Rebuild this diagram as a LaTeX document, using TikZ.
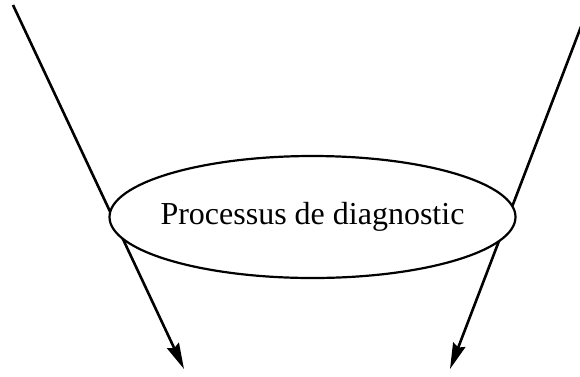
\documentclass[tikz,border=0pt]{standalone}
\usepackage{fontspec}
\setmainfont{Liberation Serif}
\usetikzlibrary{arrows.meta,shapes.geometric}
\begin{document}
\begin{tikzpicture}[x=1pt,y=-1pt,
  flow/.style={line width=2.6pt,-{Stealth[length=26pt,width=13pt,inset=3pt]}},
  procbox/.style={ellipse,draw,fill=white,line width=2.2pt,minimum width=406pt,minimum height=122pt,inner sep=0pt,font=\fontsize{32}{38}\selectfont}]
\useasboundingbox (0,0) rectangle (580,376);
\coordinate (a1) at (13,5);
\coordinate (a2) at (184,369);
\coordinate (b1) at (582,24);
\coordinate (b2) at (450,369);
\draw[flow] (a1) -- (a2);
\draw[flow] (b1) -- (b2);
\node[procbox] (p) at (312.5,217) {\makebox[0pt]{Processus de diagnostic}};
\end{tikzpicture}
\end{document}
